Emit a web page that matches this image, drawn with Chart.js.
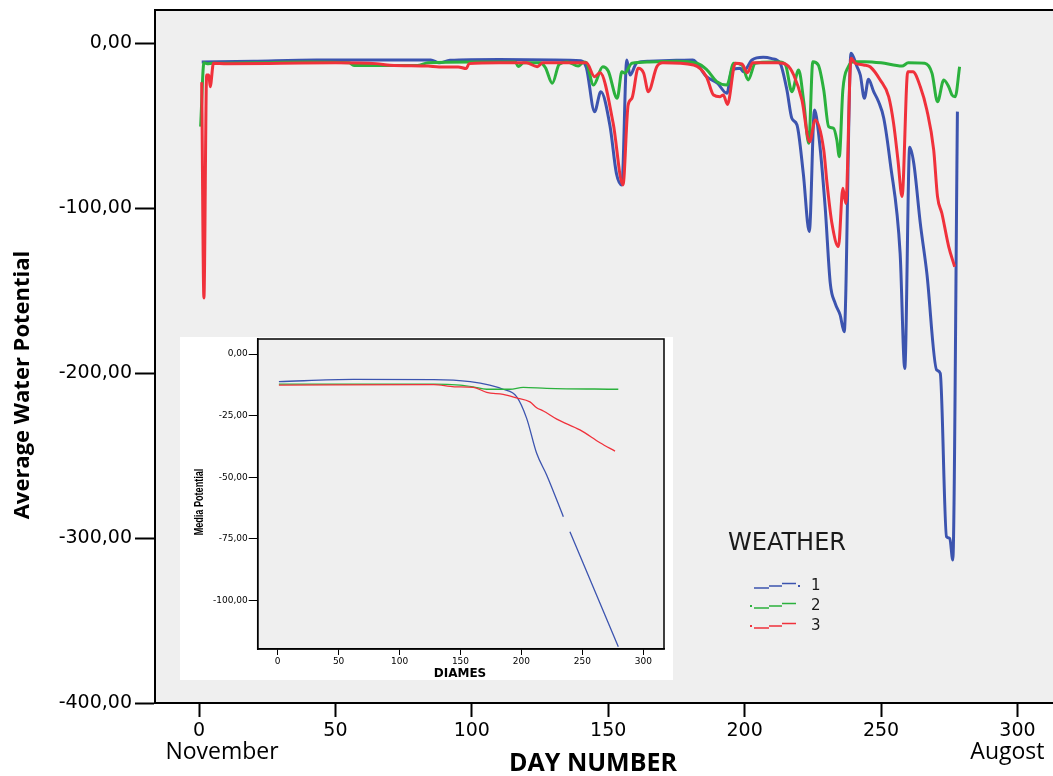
<!DOCTYPE html>
<html><head><meta charset="utf-8">
<script src="https://cdn.jsdelivr.net/npm/chart.js@4.4.1/dist/chart.umd.min.js"></script>
<style>
html,body{margin:0;padding:0;background:#fff;overflow:hidden;}
#wrap{position:relative;width:1053px;height:776px;overflow:hidden;background:#fff;}
#main{position:absolute;left:0;top:0;}
#insetBox{position:absolute;left:180px;top:337px;width:493px;height:343px;background:#fff;}
#inset{position:absolute;left:0;top:0;}
</style></head><body>
<div id="wrap">
<canvas id="main" width="1072" height="776"></canvas>
<div id="insetBox"><canvas id="inset" width="493" height="343"></canvas></div>
</div>
<script>
// ---------- DATA ----------
const weatherNames = ['1', '2', '3'];
const dayTicks = [0, 50, 100, 150, 200, 250, 300];
const potentialTicks = [0, -100, -200, -300, -400];
const insetPotentialTicks = [0, -25, -50, -75, -100];

const w1Days = [1,20,43,85,88,92,110,130,140,142,145,147.3,150.7,153,155,156.8,158,160.5,165,175,181,186,190,193.5,195.3,198.4,199.5,202.7,206.8,210,213,215.5,217.3,219.2,221.5,223.7,225.6,227.1,229.5,231.4,233.2,235,236.5,239,241.2,242.4,243.9,245.4,247.3,249.1,251,253.4,257,258.7,260.5,262,264.4,266.8,270.4,271.7,274,275.2,276.3,278];
const w1Potential = [-11.5,-11,-10.3,-10.3,-12,-10.5,-10,-10.3,-10.7,-15,-41.6,-29.5,-50.7,-79,-86,-10.3,-19.4,-12,-11,-10.5,-10.3,-20.4,-24.3,-30.5,-16.4,-15.3,-17.4,-10.3,-8.7,-9.5,-12.3,-28.5,-45.6,-49.7,-79,-114.3,-40.6,-54.7,-99,-145.7,-157.8,-164.8,-175,-6.2,-14.4,-19.4,-33.5,-22,-29.5,-35.6,-45.6,-72.9,-127.5,-197.2,-63.2,-72.9,-109.3,-139.6,-198.2,-200.2,-299.2,-300.2,-313.3,-41.6];

const w2Days = [0.6,1.8,3,5,20,40,55,57,80,84,100,116,117,119,125,127,129.5,132,135,139,141,142,144.6,148,150,153.3,155,156,158.7,165,175,182.5,186,189.8,193.5,196,199,201.3,203.9,210,213,215,217.3,219.8,221.7,223.5,225,227,229,230.8,232.6,233.8,234.7,236,238,240,244,250,257.7,260,266,268.7,270.7,273,274.8,276,277.2,278.8];
const w2Potential = [-50.7,-12,-12.5,-12.3,-12,-11.5,-12,-13.7,-13.7,-12,-11.5,-11.5,-14.3,-12,-12,-15,-24.4,-13,-11.5,-14,-11.5,-12,-25.5,-14.4,-17,-33.5,-17.4,-18.3,-12.3,-11.5,-11,-12.3,-16,-23.4,-25.5,-12.3,-13.3,-22.4,-12.3,-11.5,-11.5,-13.3,-29.5,-16.4,-36,-60.8,-11.3,-13.3,-28.5,-50.7,-51.7,-58.8,-68.9,-28.5,-14.4,-11.3,-11.3,-12,-14,-12,-12.3,-18.4,-35.6,-22.4,-26.5,-31.5,-32.5,-14.4];

const w3Days = [1,1.8,2.8,3.6,4.1,5.3,10,30,50,65,70,84,88,95,98,99,110,120,124,126,135,142,145,147,151.8,155.4,157.3,158.7,161,163,164.7,167.8,170,181.3,186,188.6,191,192.2,193.7,196.6,199,201,203,212,215.5,218,221,223.8,225.9,229,230.2,232,234.4,236,237.1,239,240.6,243.6,246,249.7,252.8,254.6,256.2,257.7,259.8,261.7,264.4,266.8,269.3,270.7,272.3,274.8,277];
const w3Potential = [-23.8,-154.5,-19.4,-19.4,-26.5,-12.3,-12.5,-12.3,-12,-12.5,-13.5,-14,-14.5,-14.5,-15.5,-12.5,-12,-12,-14.4,-12,-12,-12,-20.4,-18,-48.5,-86,-37.6,-33.5,-15.3,-18.3,-29.5,-14.4,-12,-13.3,-20.4,-31.5,-32.5,-31.5,-37.2,-12.3,-12.7,-18,-12,-12,-13.3,-19.4,-34.5,-59.8,-46.7,-64.8,-85,-109.3,-123.4,-88,-97.2,-9.3,-12.3,-13.3,-14.4,-22.4,-32.5,-48.7,-70.9,-93.1,-17.4,-17.4,-26.5,-40.6,-64.8,-93.1,-103.2,-123.4,-135.6];

// inset (media potential by DIAMES)
const m1Days = [1,62,128,158,174,185,196,204.3,212.5,220.7,234.4,237,239.8,279.5];
const m1Potential = [-11.2,-10.3,-10.4,-11.2,-12.6,-14.3,-17.3,-26.1,-40.3,-49.1,-66,null,-72.1,-118.8];
const m2Days = [1,128,149.6,160.5,171.5,190.6,201.5,220.7,279.5];
const m2Potential = [-12.2,-12.2,-12.6,-13.3,-14.3,-14.3,-13.5,-13.9,-14.3];
const m3Days = [1,128,145,160.5,171.5,185,196,207,212.5,218,229,248,264.5,276.8];
const m3Potential = [-12.6,-12.4,-13.3,-13.5,-15.6,-16.4,-17.8,-19.4,-21.8,-23.1,-26.4,-30.8,-36,-39.4];

// ---------- STYLE ----------
const COLORS = ['#3c54af', '#2bb13d', '#f0313b'];
const pts = (xs, ys) => xs.map((x, i) => ({x: x, y: ys[i]}));
const fmt = v => Number(v).toFixed(2).replace('.', ',');
const noPad = s => { s.paddingTop = 0; s.paddingBottom = 0; s.paddingLeft = 0; s.paddingRight = 0; };

const bgPlugin = {
  id: 'bg',
  beforeDraw(chart) {
    const {ctx, chartArea: a} = chart;
    ctx.save();
    ctx.fillStyle = '#efefef';
    ctx.fillRect(a.left, a.top, a.right - a.left, a.bottom - a.top);
    ctx.restore();
  }
};

const mainDecor = {
  id: 'mainDecor',
  afterDraw(chart) {
    const {ctx, chartArea: a, scales} = chart;
    const xs = scales.x;
    ctx.save();
    // top frame line
    ctx.strokeStyle = '#000'; ctx.lineWidth = 2;
    ctx.beginPath(); ctx.moveTo(a.left - 1, a.top); ctx.lineTo(a.right, a.top); ctx.stroke();
    ctx.fillStyle = '#000';
    ctx.textBaseline = 'middle'; ctx.textAlign = 'center';
    ctx.font = '23px "Open Sans", sans-serif';
    ctx.fillText('November', xs.getPixelForValue(dayTicks[0]) + 23, 752);
    ctx.fillText('Augost', xs.getPixelForValue(dayTicks[dayTicks.length - 1]) - 10, 752);
    ctx.font = 'bold 25px "Open Sans", sans-serif';
    ctx.fillText('DAY NUMBER', 593, 764);
    ctx.save();
    ctx.translate(23, 385); ctx.rotate(-Math.PI / 2);
    ctx.font = 'bold 22px "Open Sans", sans-serif';
    ctx.fillText('Average Water Potential', 0, 0);
    ctx.restore();
    // legend
    ctx.textAlign = 'left';
    ctx.fillStyle = '#1a1a1a';
    ctx.font = '24px "DejaVu Sans", sans-serif';
    ctx.fillText('WEATHER', 728, 544);
    const rows = [585, 605, 625];
    ctx.font = '15px "DejaVu Sans", sans-serif';
    ctx.lineWidth = 1.6;
    rows.forEach((y, i) => {
      ctx.strokeStyle = COLORS[i];
      ctx.beginPath();
      ctx.moveTo(754, y + 3); ctx.lineTo(769, y + 3);
      ctx.moveTo(769, y + 1); ctx.lineTo(782, y + 1);
      ctx.moveTo(782, y - 1.5); ctx.lineTo(796, y - 1.5);
      ctx.stroke();
      ctx.fillStyle = COLORS[i];
      ctx.fillRect(i === 0 ? 798 : 750, y, 2, 2);
      ctx.fillStyle = '#1a1a1a';
      ctx.fillText(weatherNames[i], 811, y + 1);
    });
    ctx.restore();
  }
};

const mkSet = (label, data, color, width, order) => ({
  label, data, borderColor: color, backgroundColor: color, borderWidth: width,
  pointRadius: 0, fill: false, cubicInterpolationMode: 'monotone', spanGaps: false, order
});

new Chart(document.getElementById('main'), {
  type: 'line',
  data: {datasets: [
    mkSet(weatherNames[0], pts(w1Days, w1Potential), COLORS[0], 3, 2),
    mkSet(weatherNames[1], pts(w2Days, w2Potential), COLORS[1], 3, 1),
    mkSet(weatherNames[2], pts(w3Days, w3Potential), COLORS[2], 3, 0)
  ]},
  options: {
    responsive: false, animation: false, devicePixelRatio: 1,
    layout: {padding: {left: 0, right: 0, top: 10, bottom: 0}},
    plugins: {legend: {display: false}, tooltip: {enabled: false}},
    scales: {
      x: {
        type: 'linear', min: -16.13, max: 320,
        afterBuildTicks: s => { s.ticks = dayTicks.map(v => ({value: v})); },
        ticks: {includeBounds: false, autoSkip: false, maxRotation: 0, padding: 3, color: '#000',
          font: {family: 'DejaVu Sans', size: 19}},
        grid: {drawOnChartArea: false, tickLength: 14, tickWidth: 2, tickColor: '#000'},
        border: {color: '#000', width: 2},
        afterFit: s => { s.height = 73; noPad(s); }
      },
      y: {
        type: 'linear', min: -400, max: 20,
        afterBuildTicks: s => { s.ticks = potentialTicks.map(v => ({value: v})); },
        ticks: {includeBounds: false, padding: 3, color: '#000', callback: fmt,
          font: {family: 'DejaVu Sans', size: 19}},
        grid: {drawOnChartArea: false, tickLength: 20, tickWidth: 2, tickColor: '#000'},
        border: {color: '#000', width: 2},
        afterFit: s => { s.width = 155; noPad(s); }
      }
    }
  },
  plugins: [bgPlugin, mainDecor]
});

const insetDecor = {
  id: 'insetDecor',
  afterDraw(chart) {
    const {ctx, chartArea: a} = chart;
    ctx.save();
    ctx.strokeStyle = '#000'; ctx.lineWidth = 1.5;
    ctx.strokeRect(a.left, a.top, a.right - a.left, a.bottom - a.top);
    ctx.fillStyle = '#000';
    ctx.textAlign = 'center'; ctx.textBaseline = 'middle';
    ctx.font = 'bold 12px "DejaVu Sans", sans-serif';
    ctx.fillText('DIAMES', 280, 337);
    ctx.translate(19, 165); ctx.rotate(-Math.PI / 2); ctx.scale(0.7, 1);
    ctx.font = 'bold 13px "Liberation Sans", sans-serif';
    ctx.fillText('Media Potential', 0, 0);
    ctx.restore();
  }
};

new Chart(document.getElementById('inset'), {
  type: 'line',
  data: {datasets: [
    mkSet(weatherNames[0], pts(m1Days, m1Potential), COLORS[0], 1.3, 2),
    mkSet(weatherNames[1], pts(m2Days, m2Potential), COLORS[1], 1.3, 1),
    mkSet(weatherNames[2], pts(m3Days, m3Potential), COLORS[2], 1.3, 0)
  ]},
  options: {
    responsive: false, animation: false, devicePixelRatio: 1,
    layout: {padding: {left: 0, right: 9, top: 2, bottom: 0}},
    plugins: {legend: {display: false}, tooltip: {enabled: false}},
    scales: {
      x: {
        type: 'linear', min: -16.4, max: 317,
        afterBuildTicks: s => { s.ticks = dayTicks.map(v => ({value: v})); },
        ticks: {includeBounds: false, autoSkip: false, maxRotation: 0, padding: 1, color: '#000',
          font: {family: 'DejaVu Sans', size: 9}},
        grid: {drawOnChartArea: false, tickLength: 6, tickWidth: 1, tickColor: '#000'},
        border: {color: '#000', width: 1.5},
        afterFit: s => { s.height = 31; noPad(s); }
      },
      y: {
        type: 'linear', min: -119.7, max: 6.1,
        afterBuildTicks: s => { s.ticks = insetPotentialTicks.map(v => ({value: v})); },
        ticks: {includeBounds: false, padding: 1, color: '#000', callback: fmt,
          font: {family: 'DejaVu Sans', size: 9}},
        grid: {drawOnChartArea: false, tickLength: 9, tickWidth: 1, tickColor: '#000'},
        border: {color: '#000', width: 1.5},
        afterFit: s => { s.width = 77.7; noPad(s); }
      }
    }
  },
  plugins: [bgPlugin, insetDecor]
});
</script>
</body></html>
